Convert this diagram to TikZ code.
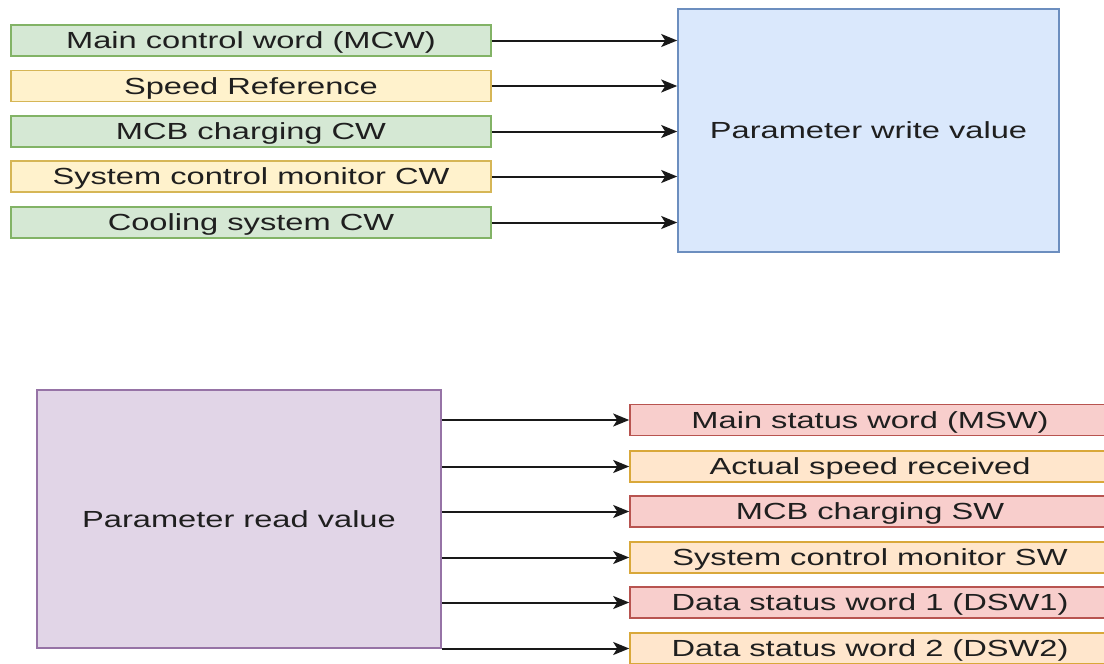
\documentclass[tikz,border=0pt]{standalone}
\usepackage{fontspec}
\setmainfont[FakeStretch=1.4]{Liberation Sans}
\usetikzlibrary{arrows.meta}

\definecolor{grnfill}{HTML}{D5E8D4}\definecolor{grnline}{HTML}{82B366}
\definecolor{ylwfill}{HTML}{FFF2CC}\definecolor{ylwline}{HTML}{D6B656}
\definecolor{orgfill}{HTML}{FFE6CC}\definecolor{orgline}{HTML}{D9A83A}
\definecolor{redfill}{HTML}{F8CECC}\definecolor{redline}{HTML}{B85450}
\definecolor{blufill}{HTML}{DAE8FC}\definecolor{bluline}{HTML}{6C8EBF}
\definecolor{purfill}{HTML}{E1D5E7}\definecolor{purline}{HTML}{9673A6}

\tikzset{
  txt/.style={text=black!88, font=\fontsize{23.3}{28}\selectfont,
    text height=16.7pt, text depth=0pt, inner sep=0pt},
  lbl/.style={txt, draw, line width=1.6pt, minimum width=480pt,
    minimum height=31pt},
  greenbox/.style={lbl, fill=grnfill, draw=grnline},
  yellowbox/.style={lbl, fill=ylwfill, draw=ylwline},
  orangebox/.style={lbl, fill=orgfill, draw=orgline},
  redbox/.style={lbl, fill=redfill, draw=redline},
  bigbox/.style={txt, draw, line width=1.6pt},
  link/.style={line width=2pt, black!90,
    -{Stealth[length=16pt, width=13pt, inset=4pt]}}
}

\begin{document}
\begin{tikzpicture}[x=1pt, y=-1pt]
  \useasboundingbox (0,0) rectangle (1104,664);
  \clip (0,0) rectangle (1104,664);

  % control words feeding the write block
  \node[greenbox]  (mcw) at (251,40.5)  {Main control word (MCW)};
  \node[yellowbox] (sref) at (251,86)   {Speed Reference};
  \node[greenbox]  (mcbcw) at (251,131.5) {MCB charging CW};
  \node[yellowbox] (scmcw) at (251,176.5) {System control monitor CW};
  \node[greenbox]  (cool) at (251,222.5) {Cooling system CW};

  \node[bigbox, fill=blufill, draw=bluline, minimum width=381pt,
        minimum height=243pt] (write) at (868.5,130.5) {Parameter write value};

  \foreach \n in {mcw,sref,mcbcw,scmcw,cool}
    \draw[link] (\n.east) -- (\n.east -| write.west);

  % status words coming out of the read block
  \node[bigbox, fill=purfill, draw=purline, minimum width=404pt,
        minimum height=258pt] (read) at (239,519) {Parameter read value};

  \node[redbox]    (msw) at (870,420)    {Main status word (MSW)};
  \node[orangebox] (spd) at (870,466.5)  {Actual speed received};
  \node[redbox]    (mcbsw) at (870,511.5) {MCB charging SW};
  \node[orangebox] (scmsw) at (870,557.5) {System control monitor SW};
  \node[redbox]    (dsw1) at (870,602.5) {Data status word 1 (DSW1)};
  \node[orangebox] (dsw2) at (870,648.5) {Data status word 2 (DSW2)};

  \foreach \n in {msw,spd,mcbsw,scmsw,dsw1,dsw2}
    \draw[link] (read.east |- \n.west) -- (\n.west);
\end{tikzpicture}
\end{document}
